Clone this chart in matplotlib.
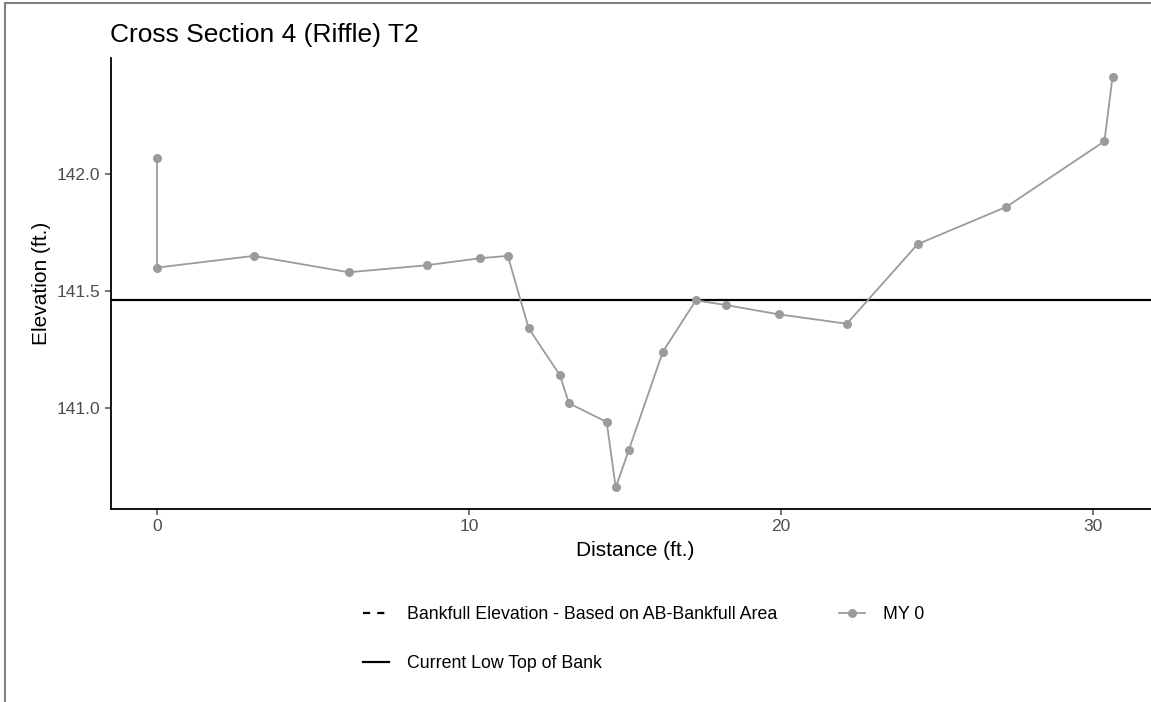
import matplotlib.pyplot as plt
from matplotlib.lines import Line2D

plt.rcParams['font.family'] = ['Liberation Sans', 'DejaVu Sans']

# survey points for MY 0
distance = [0.0, 0.0, 3.1, 6.15, 8.65, 10.35, 11.25, 11.92, 12.92, 13.21, 14.42,
            14.71, 15.13, 16.22, 17.28, 18.24, 19.94, 22.12, 24.39, 27.24, 30.38, 30.64]
elevation = [142.07, 141.60, 141.65, 141.58, 141.61, 141.64, 141.65, 141.34, 141.14,
             141.02, 140.94, 140.66, 140.82, 141.24, 141.46, 141.44, 141.40, 141.36,
             141.70, 141.86, 142.14, 142.415]
low_top_of_bank = 141.46

title = 'Cross Section 4 (Riffle) T2'
xticks = [0, 10, 20, 30]
yticks = [141.0, 141.5, 142.0]

W, H = 1151, 702
fig = plt.figure(figsize=(W / 100, H / 100), dpi=100)

# panel runs a little past the right edge of the page
left, right, top, bottom = 111, 1159, 58, 509
ax = fig.add_axes([left / W, 1 - bottom / H, (right - left) / W, (bottom - top) / H])

pt_grey = '#9b9b9b'
ax.axhline(low_top_of_bank, color='black', lw=1.6, zorder=2)
ax.plot(distance, elevation, color=pt_grey, lw=1.3, marker='o', ms=6.5,
        markeredgewidth=0, zorder=3)

ax.set_xlim(-1.474, 32.13)
ax.set_ylim(140.568, 142.496)
ax.set_xticks(xticks)
ax.set_yticks(yticks)
ax.set_yticklabels([f'{v:.1f}' for v in yticks])
ax.tick_params(labelsize=12.5, colors='#4d4d4d', length=4, width=1.1)
ax.tick_params(axis='both', labelcolor='#4d4d4d')

for side in ['top', 'right']:
    ax.spines[side].set_visible(False)
for side in ['left', 'bottom']:
    ax.spines[side].set_linewidth(1.3)
    ax.spines[side].set_color('black')

ax.set_xlabel('Distance (ft.)', fontsize=15, labelpad=5)
ax.set_ylabel('Elevation (ft.)', fontsize=15, labelpad=4)

fig.text(110 / W, 1 - 42 / H, title, fontsize=19, ha='left', va='baseline')

handles = [
    Line2D([], [], color='black', lw=1.6, linestyle=(0, (3.2, 3.2))),
    Line2D([], [], color='black', lw=1.6),
    Line2D([], [], color=pt_grey, lw=1.3, marker='o', ms=6.5, markeredgewidth=0),
]
labels = ['Bankfull Elevation - Based on AB-Bankfull Area',
          'Current Low Top of Bank', 'MY 0']
fig.legend(handles, labels, ncol=2, loc='upper left',
           bbox_to_anchor=(363 / W, 1 - 606 / H), frameon=False,
           fontsize=12.8, handlelength=1.45, handletextpad=1.0,
           columnspacing=3.5, labelspacing=1.8, borderpad=0, borderaxespad=0)

# page border
fig.add_artist(Line2D([5 / W, 5 / W], [0, 1 - 3 / H], color='#808080', lw=1.5,
                      transform=fig.transFigure))
fig.add_artist(Line2D([5 / W, 1], [1 - 3 / H, 1 - 3 / H], color='#808080', lw=1.5,
                      transform=fig.transFigure))

fig.savefig('out.png', dpi=100)
